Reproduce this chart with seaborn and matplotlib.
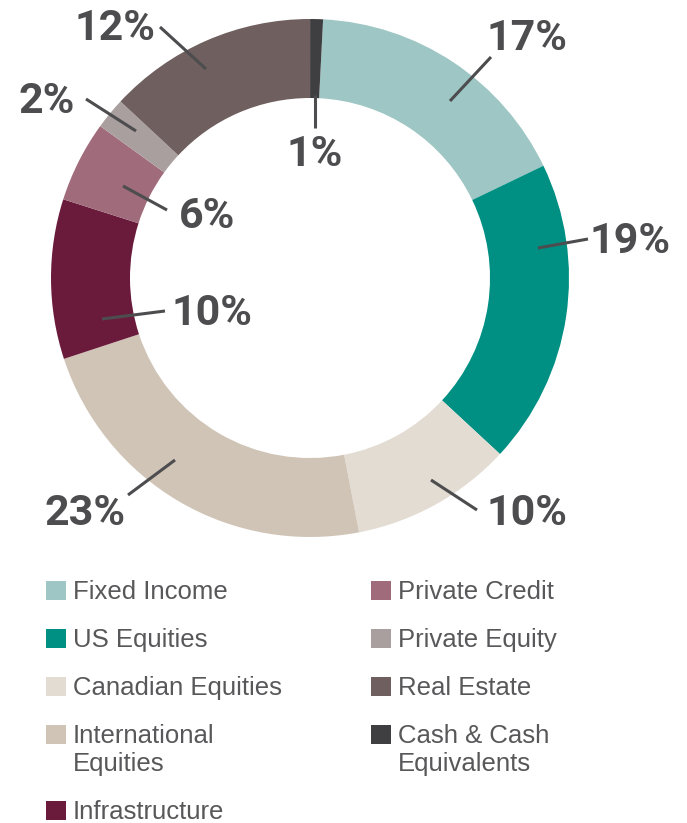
import matplotlib
matplotlib.use("Agg")
import matplotlib.pyplot as plt
from matplotlib.patches import Rectangle
import seaborn as sns

# ---- data ----
categories = ["Fixed Income", "US Equities", "Canadian Equities", "International\nEquities",
              "Infrastructure", "Private Credit", "Private Equity", "Real Estate",
              "Cash & Cash\nEquivalents"]
values = [17.06, 19.03, 10.07, 22.98, 9.97, 5.06, 1.96, 13.07, 0.80]
pct_labels = ["17%", "19%", "10%", "23%", "10%", "6%", "2%", "12%", "1%"]
colors = ["#9DC6C4", "#008F83", "#E2DCD3", "#D0C4B6", "#6A1B3B",
          "#A06B7B", "#AA9F9F", "#6F5F5E", "#3F3F42"]

sns.set_theme(style="white")
palette = sns.color_palette(colors)

W, H = 687, 823
fig = plt.figure(figsize=(W / 100, H / 100), dpi=100)
ax = fig.add_axes([0, 0, 1, 1])

def py(y):  # convert from top-origin pixel rows to data y
    return H - y

cx, cy, R, r_in = 310, py(278), 259, 180
ax.pie(values, colors=palette, startangle=87.1, counterclock=False,
       radius=R, center=(cx, cy),
       wedgeprops=dict(width=R - r_in, edgecolor="none", linewidth=0))
ax.set_xlim(0, W)
ax.set_ylim(0, H)
ax.set_aspect("equal")
ax.axis("off")

# ---- percentage labels with leader lines ----
label_color = "#4D4D4F"
text_pos = [(527, 50), (630, 253), (527, 525), (85, 525), (212, 325),
            (207, 228), (47, 113), (115, 40), (315, 166)]
line_pts = [((450, 101), (491, 57)), ((538, 248), (588, 239)),
            ((431, 480), (477, 510)), ((175, 460), (128, 495)),
            ((102, 319), (165, 311)), ((123, 186), (167, 210)),
            ((86, 99), (136, 131)), ((160, 27), (206, 69)),
            ((315, 95), (315, 128))]
for lab, (tx, ty), (p0, p1) in zip(pct_labels, text_pos, line_pts):
    ax.plot([p0[0], p1[0]], [py(p0[1]), py(p1[1])], color=label_color,
            lw=2.2, solid_capstyle="butt")
    ax.text(tx, py(ty), lab, ha="center", va="baseline", fontsize=31,
            fontweight="bold", family="Roboto", color=label_color)

# ---- legend (two columns) ----
legend_color = "#58585A"
col_x = [46, 371]
row_top = 581
pitch = 48
line_gap = 28
n_first = 5
for i, (cat, col) in enumerate(zip(categories, palette)):
    c = 0 if i < n_first else 1
    j = i if i < n_first else i - n_first
    # extra offset for rows after a two-line entry in the same column
    extra = 0
    start = 0 if c == 0 else n_first
    for k in range(start, i):
        extra += line_gap * (categories[k].count("\n"))
    top = row_top + j * pitch + extra
    x0 = col_x[c]
    ax.add_patch(Rectangle((x0, py(top + 19)), 20, 19, facecolor=col,
                           edgecolor="none"))
    for li, part in enumerate(cat.split("\n")):
        ax.text(x0 + 27, py(top + 18 + li * line_gap), part, ha="left",
                va="baseline", fontsize=18.5, family="Liberation Sans",
                color=legend_color)

fig.savefig("out.png", dpi=100)
